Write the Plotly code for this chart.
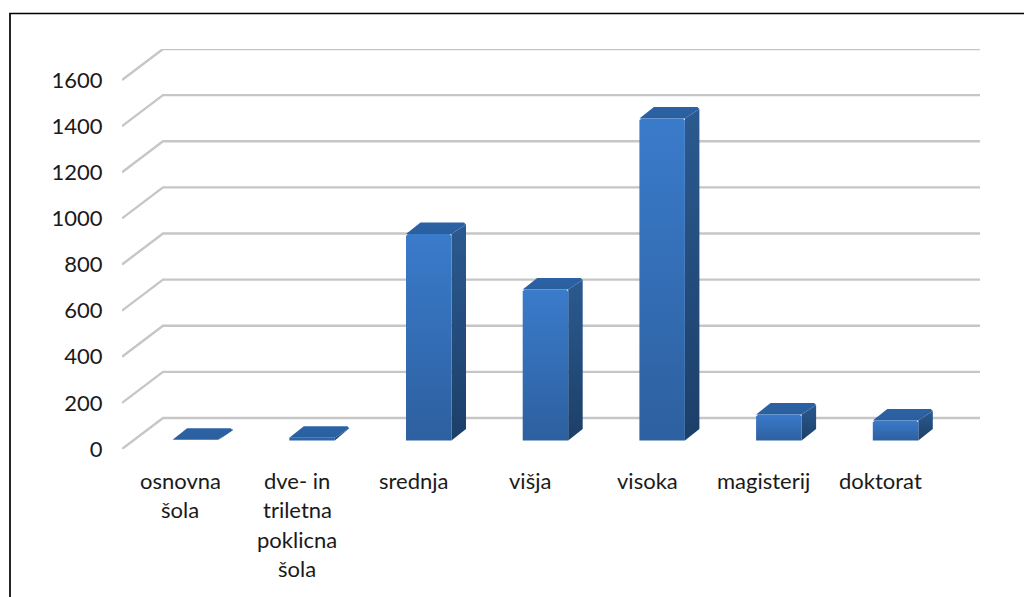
import plotly.graph_objects as go

categories = [["osnovna", "šola"], ["dve- in", "triletna", "poklicna", "šola"], ["srednja"], ["višja"], ["visoka"], ["magisterij"], ["doktorat"]]
values = [3, 12, 895, 655, 1396, 113, 87]
y_ticks = [0, 200, 400, 600, 800, 1000, 1200, 1400, 1600]

W, H = 1024, 597
L, R, T, B = 122, 980, 49, 449
CAT_PX = 116.7
Y_PX = 369 / 1600
WALL_X = 41 / CAT_PX
WALL_Y = 31 / Y_PX
BAR_W = 45.5 / CAT_PX
OFF_X = 15 / CAT_PX
OFF_Y = 8.5 / Y_PX
DEP_X = 14.5 / CAT_PX
DEP_Y = 11.5 / Y_PX
CH_X = 2 / CAT_PX
CH_Y = 2 / Y_PX
FONT = "Lato"
TXT = "#1a1a1a"

fig = go.Figure()

# walls' gridlines
gx, gy = [], []
x0 = -0.5
x1 = x0 + (R - L) / CAT_PX
for t in y_ticks:
    gx += [x0, x0 + WALL_X, x1, None]
    gy += [t, t + WALL_Y, t + WALL_Y, None]
fig.add_trace(go.Scatter(x=gx, y=gy, mode="lines", line=dict(color="#c6c6c6", width=2.4),
                         hoverinfo="skip", showlegend=False, cliponaxis=False))

def poly(xs, ys, colors):
    fig.add_trace(go.Scatter(
        x=xs + xs[:1], y=ys + ys[:1], mode="lines", fill="toself",
        line=dict(width=0, color="rgba(0,0,0,0)"),
        fillcolor=colors[0],
        fillgradient=dict(type="vertical", colorscale=[[0, colors[0]], [1, colors[1]]]),
        hoverinfo="skip", showlegend=False))

for i, v in enumerate(values):
    xl = i - BAR_W / 2 + OFF_X
    xr = i + BAR_W / 2 + OFF_X
    yb = OFF_Y
    yt = OFF_Y + v
    # side face
    poly([xr, xr + DEP_X, xr + DEP_X, xr],
         [yb, yb + DEP_Y, yt + DEP_Y - CH_Y, yt],
         ["#1c3f68", "#2b5a90"])
    # top face
    poly([xl, xl + DEP_X, xr + DEP_X - CH_X, xr + DEP_X, xr],
         [yt, yt + DEP_Y, yt + DEP_Y, yt + DEP_Y - CH_Y, yt],
         ["#2a5f9f", "#2c62a4"])
    # front face
    if v > 50:
        poly([xl, xr, xr, xr - CH_X, xl + CH_X, xl],
             [yb, yb, yt - CH_Y, yt, yt, yt - CH_Y],
             ["#2d609f", "#3a7bcb"])
    else:
        poly([xl, xr, xr, xl], [yb, yb, yt, yt], ["#2d65a8", "#2d65a8"])

# category labels, one text per line
for i, lines in enumerate(categories):
    for j, line in enumerate(lines):
        fig.add_annotation(x=i, y=0, xref="x", yref="y", text=line, showarrow=False,
                           xanchor="center", yanchor="middle", yshift=-(31 + j * 29.5),
                           font=dict(family=FONT, size=22, color=TXT))

# chart frame: only its left and top edges fall inside the picture
def px_x(p):
    return (p - L) / (R - L)

def px_y(p):
    return (B - p) / (B - T)

fig.add_shape(type="rect", xref="paper", yref="paper",
              x0=px_x(10), x1=px_x(1100), y0=px_y(700), y1=px_y(13.5),
              line=dict(color="#000000", width=1.7))

fig.update_layout(
    width=W, height=H, autosize=False,
    margin=dict(l=L, r=W - R, t=T, b=H - B, autoexpand=False),
    paper_bgcolor="white", plot_bgcolor="white", showlegend=False,
    xaxis=dict(range=[x0, x1], showgrid=False, zeroline=False, showline=False,
               showticklabels=False, ticks="", fixedrange=True),
    yaxis=dict(range=[0, 1600 + WALL_Y], tickvals=y_ticks, ticktext=[str(t) for t in y_ticks],
               showgrid=False, zeroline=False, showline=False, ticks="outside", ticklen=14,
               tickcolor="rgba(0,0,0,0)", tickfont=dict(family=FONT, size=22, color=TXT), fixedrange=True),
)
fig.write_html("out.html", config={"displayModeBar": False},
               post_script="document.body.style.margin='0';document.body.style.overflow='hidden';")
